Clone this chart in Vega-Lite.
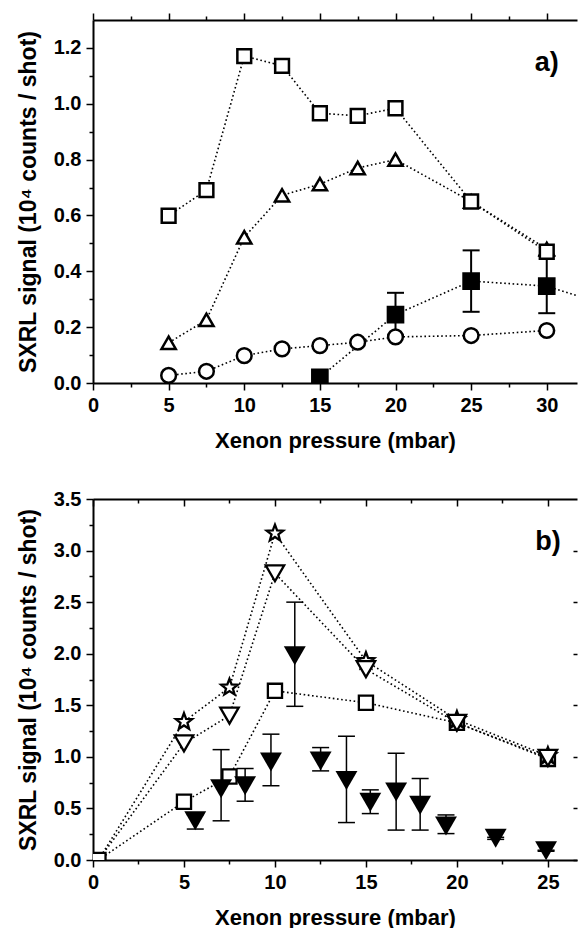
{
  "$schema": "https://vega.github.io/schema/vega-lite/v6.json",
  "background": "white",
  "padding": {"left": 17, "top": 12, "right": 0, "bottom": 0},
  "spacing": 38,
  "config": {
    "view": {"stroke": null},
    "font": "Liberation Sans",
    "axis": {
      "labelFont": "Liberation Sans", "labelFontSize": 20, "labelFontWeight": "bold", "labelColor": "black",
      "titleFont": "Liberation Sans", "titleFontSize": 22, "titleFontWeight": "bold", "titleColor": "black",
      "domainColor": "black", "domainWidth": 2, "tickColor": "black", "tickWidth": 1.5, "tickSize": 7,
      "grid": false, "labelFlush": false, "labelOverlap": false, "labelPadding": 5
    }
  },
  "datasets": {
    "a": [
      {"s": "fsq", "x": 15, "y": 0.02},
      {"s": "fsq", "x": 20, "y": 0.245, "lo": 0.17, "hi": 0.323},
      {"s": "fsq", "x": 25, "y": 0.365, "lo": 0.255, "hi": 0.475},
      {"s": "fsq", "x": 30, "y": 0.347, "lo": 0.25, "hi": 0.455},
      {"s": "fsq", "x": 35, "y": 0.262},
      {"s": "circ", "x": 5, "y": 0.027},
      {"s": "circ", "x": 7.5, "y": 0.042},
      {"s": "circ", "x": 10, "y": 0.098},
      {"s": "circ", "x": 12.5, "y": 0.122},
      {"s": "circ", "x": 15, "y": 0.134},
      {"s": "circ", "x": 17.5, "y": 0.146},
      {"s": "circ", "x": 20, "y": 0.165},
      {"s": "circ", "x": 25, "y": 0.17},
      {"s": "circ", "x": 30, "y": 0.188},
      {"s": "tri", "x": 5, "y": 0.144},
      {"s": "tri", "x": 7.5, "y": 0.226},
      {"s": "tri", "x": 10, "y": 0.522},
      {"s": "tri", "x": 12.5, "y": 0.672},
      {"s": "tri", "x": 15, "y": 0.712},
      {"s": "tri", "x": 17.5, "y": 0.77},
      {"s": "tri", "x": 20, "y": 0.8},
      {"s": "tri", "x": 25, "y": 0.65},
      {"s": "tri", "x": 30, "y": 0.48},
      {"s": "sq", "x": 5, "y": 0.599},
      {"s": "sq", "x": 7.5, "y": 0.691},
      {"s": "sq", "x": 10, "y": 1.171},
      {"s": "sq", "x": 12.5, "y": 1.136},
      {"s": "sq", "x": 15, "y": 0.966},
      {"s": "sq", "x": 17.5, "y": 0.957},
      {"s": "sq", "x": 20, "y": 0.984},
      {"s": "sq", "x": 25, "y": 0.65},
      {"s": "sq", "x": 30, "y": 0.47}
    ],
    "b": [
      {"s": "sq", "x": 0.3, "y": 0.0},
      {"s": "sq", "x": 5, "y": 0.565},
      {"s": "sq", "x": 7.5, "y": 0.81},
      {"s": "sq", "x": 10, "y": 1.64},
      {"s": "sq", "x": 15, "y": 1.525},
      {"s": "sq", "x": 20, "y": 1.33},
      {"s": "sq", "x": 25, "y": 0.98},
      {"s": "st", "x": 0.3, "y": 0.0},
      {"s": "st", "x": 5, "y": 1.34},
      {"s": "st", "x": 7.5, "y": 1.673},
      {"s": "st", "x": 10, "y": 3.167},
      {"s": "st", "x": 15, "y": 1.93},
      {"s": "st", "x": 20, "y": 1.36},
      {"s": "st", "x": 25, "y": 1.01},
      {"s": "dt", "x": 0.3, "y": 0.0},
      {"s": "dt", "x": 5, "y": 1.13},
      {"s": "dt", "x": 7.5, "y": 1.4},
      {"s": "dt", "x": 10, "y": 2.78},
      {"s": "dt", "x": 15, "y": 1.85},
      {"s": "dt", "x": 20, "y": 1.33},
      {"s": "dt", "x": 25, "y": 0.99},
      {"s": "ft", "x": 5.62, "y": 0.38, "lo": 0.3, "hi": 0.44},
      {"s": "ft", "x": 7.04, "y": 0.69, "lo": 0.38, "hi": 1.07},
      {"s": "ft", "x": 8.36, "y": 0.72, "lo": 0.57, "hi": 0.887},
      {"s": "ft", "x": 9.78, "y": 0.95, "lo": 0.72, "hi": 1.22},
      {"s": "ft", "x": 11.09, "y": 1.98, "lo": 1.49, "hi": 2.5},
      {"s": "ft", "x": 12.51, "y": 0.96, "lo": 0.864, "hi": 1.09},
      {"s": "ft", "x": 13.93, "y": 0.77, "lo": 0.363, "hi": 1.2},
      {"s": "ft", "x": 15.24, "y": 0.56, "lo": 0.45, "hi": 0.68},
      {"s": "ft", "x": 16.66, "y": 0.66, "lo": 0.29, "hi": 1.035},
      {"s": "ft", "x": 17.98, "y": 0.53, "lo": 0.29, "hi": 0.79},
      {"s": "ft", "x": 19.4, "y": 0.33, "lo": 0.256, "hi": 0.437},
      {"s": "ft", "x": 22.13, "y": 0.21, "lo": 0.2, "hi": 0.22},
      {"s": "ft", "x": 24.9, "y": 0.09, "lo": 0.085, "hi": 0.095}
    ]
  },
  "vconcat": [
    {
      "width": 484,
      "height": 363,
      "layer": [
        {
          "data": {"name": "a"},
          "mark": {"type": "line", "stroke": "black", "strokeWidth": 1.6, "strokeDash": [1.6, 2.6], "clip": true},
          "encoding": {
            "x": {"field": "x", "type": "quantitative",
              "scale": {"domain": [0, 32], "nice": false, "zero": false},
              "axis": {"orient": "bottom", "title": "Xenon pressure (mbar)",
                "values": [0, 2.5, 5, 7.5, 10, 12.5, 15, 17.5, 20, 22.5, 25, 27.5, 30],
                "labelExpr": "datum.value % 5 === 0 ? datum.label : ''",
                "tickDash": {"condition": {"test": "datum.value % 5 === 0", "value": [1, 0]}, "value": [4, 20]},
                "titlePadding": 15}},
            "y": {"field": "y", "type": "quantitative",
              "scale": {"domain": [0, 1.3], "nice": false},
              "axis": {"orient": "left", "title": "SXRL signal (10⁴ counts / shot)", "titleFontSize": 23,
                "values": [0, 0.1, 0.2, 0.3, 0.4, 0.5, 0.6, 0.7, 0.8, 0.9, 1, 1.1, 1.2],
                "format": ".1f",
                "labelExpr": "round(datum.value * 10) % 2 === 0 ? datum.label : ''",
                "tickDash": {"condition": {"test": "round(datum.value * 10) % 2 === 0", "value": [1, 0]}, "value": [4, 20]},
                "titlePadding": 13}},
            "detail": {"field": "s"}
          }
        },
        {
          "data": {"name": "a"},
          "transform": [{"filter": "isValid(datum.lo)"}],
          "mark": {"type": "rule", "stroke": "black", "strokeWidth": 2},
          "encoding": {
            "x": {"field": "x", "type": "quantitative", "axis": null},
            "y": {"field": "lo", "type": "quantitative", "axis": null},
            "y2": {"field": "hi"}
          }
        },
        {
          "data": {"name": "a"},
          "transform": [{"filter": "isValid(datum.lo)"}],
          "mark": {"type": "tick", "orient": "horizontal", "size": 17, "thickness": 2, "color": "black", "opacity": 1},
          "encoding": {
            "x": {"field": "x", "type": "quantitative", "axis": null},
            "y": {"field": "lo", "type": "quantitative", "axis": null}
          }
        },
        {
          "data": {"name": "a"},
          "transform": [{"filter": "isValid(datum.hi)"}],
          "mark": {"type": "tick", "orient": "horizontal", "size": 17, "thickness": 2, "color": "black", "opacity": 1},
          "encoding": {
            "x": {"field": "x", "type": "quantitative", "axis": null},
            "y": {"field": "hi", "type": "quantitative", "axis": null}
          }
        },
        {
          "data": {"name": "a"},
          "mark": {"type": "point", "filled": true, "stroke": "black", "strokeWidth": 2.5, "opacity": 1, "clip": true},
          "encoding": {
            "x": {"field": "x", "type": "quantitative", "axis": null},
            "y": {"field": "y", "type": "quantitative", "axis": null},
            "shape": {"field": "s", "type": "nominal", "legend": null,
              "scale": {"domain": ["fsq", "circ", "tri", "sq"], "range": ["square", "circle", "triangle-up", "square"]}},
            "fill": {"field": "s", "type": "nominal", "legend": null,
              "scale": {"domain": ["fsq", "circ", "tri", "sq"], "range": ["black", "white", "white", "white"]}},
            "size": {"field": "s", "type": "nominal", "legend": null,
              "scale": {"domain": ["fsq", "circ", "tri", "sq"], "range": [230, 190, 300, 200]}}
          }
        },
        {
          "data": {"values": [{"x": 30, "y": 1.147, "t": "a)"}]},
          "mark": {"type": "text", "fontSize": 27, "fontWeight": "bold", "font": "Liberation Sans", "color": "black", "align": "center", "baseline": "middle"},
          "encoding": {
            "x": {"field": "x", "type": "quantitative",
              "axis": {"orient": "top", "title": null, "labels": false, "domainWidth": 2,
                "values": [0, 2.5, 5, 7.5, 10, 12.5, 15, 17.5, 20, 22.5, 25, 27.5, 30],
                "tickDash": {"condition": {"test": "datum.value % 5 === 0", "value": [1, 0]}, "value": [4, 20]}}},
            "y": {"field": "y", "type": "quantitative",
              "axis": {"orient": "right", "title": null, "labels": false, "ticks": false, "domain": false}},
            "text": {"field": "t"}
          }
        }
      ]
    },
    {
      "width": 484,
      "height": 361,
      "layer": [
        {
          "data": {"name": "b"},
          "transform": [{"filter": "datum.s !== 'ft'"}],
          "mark": {"type": "line", "stroke": "black", "strokeWidth": 1.6, "strokeDash": [1.6, 2.6], "clip": true},
          "encoding": {
            "x": {"field": "x", "type": "quantitative",
              "scale": {"domain": [0, 26.6], "nice": false, "zero": false},
              "axis": {"orient": "bottom", "title": "Xenon pressure (mbar)",
                "values": [0, 2.5, 5, 7.5, 10, 12.5, 15, 17.5, 20, 22.5, 25],
                "labelExpr": "datum.value % 5 === 0 ? datum.label : ''",
                "tickDash": {"condition": {"test": "datum.value % 5 === 0", "value": [1, 0]}, "value": [4, 20]},
                "titlePadding": 15}},
            "y": {"field": "y", "type": "quantitative",
              "scale": {"domain": [0, 3.5], "nice": false},
              "axis": {"orient": "left", "title": "SXRL signal (10⁴ counts / shot)", "titleFontSize": 23,
                "values": [0, 0.25, 0.5, 0.75, 1, 1.25, 1.5, 1.75, 2, 2.25, 2.5, 2.75, 3, 3.25, 3.5],
                "format": ".1f",
                "labelExpr": "round(datum.value * 4) % 2 === 0 ? datum.label : ''",
                "tickDash": {"condition": {"test": "round(datum.value * 4) % 2 === 0", "value": [1, 0]}, "value": [4, 20]},
                "titlePadding": 13}},
            "detail": {"field": "s"}
          }
        },
        {
          "data": {"name": "b"},
          "transform": [{"filter": "datum.s === 'sq'"}],
          "mark": {"type": "point", "shape": "square", "size": 200, "filled": true, "fill": "white", "stroke": "black", "strokeWidth": 2.3, "opacity": 1, "clip": true},
          "encoding": {
            "x": {"field": "x", "type": "quantitative", "axis": null},
            "y": {"field": "y", "type": "quantitative", "axis": null}
          }
        },
        {
          "data": {"name": "b"},
          "transform": [{"filter": "datum.s === 'st' && datum.x > 1"}],
          "mark": {"type": "point", "shape": "M0,-1L0.247,-0.34L0.951,-0.309L0.399,0.13L0.588,0.809L0,0.42L-0.588,0.809L-0.399,0.13L-0.951,-0.309L-0.247,-0.34Z", "size": 300, "filled": true, "fill": "white", "stroke": "black", "strokeWidth": 2.3, "opacity": 1},
          "encoding": {
            "x": {"field": "x", "type": "quantitative", "axis": null},
            "y": {"field": "y", "type": "quantitative", "axis": null}
          }
        },
        {
          "data": {"name": "b"},
          "transform": [{"filter": "datum.s === 'dt' && datum.x > 1"}],
          "mark": {"type": "point", "shape": "triangle-down", "size": 340, "filled": true, "fill": "white", "stroke": "black", "strokeWidth": 2.3, "opacity": 1},
          "encoding": {
            "x": {"field": "x", "type": "quantitative", "axis": null},
            "y": {"field": "y", "type": "quantitative", "axis": null}
          }
        },
        {
          "data": {"name": "b"},
          "transform": [{"filter": "isValid(datum.lo)"}],
          "mark": {"type": "rule", "stroke": "black", "strokeWidth": 1.5},
          "encoding": {
            "x": {"field": "x", "type": "quantitative", "axis": null},
            "y": {"field": "lo", "type": "quantitative", "axis": null},
            "y2": {"field": "hi"}
          }
        },
        {
          "data": {"name": "b"},
          "transform": [{"filter": "isValid(datum.lo)"}],
          "mark": {"type": "tick", "orient": "horizontal", "size": 17, "thickness": 1.5, "color": "black", "opacity": 1},
          "encoding": {
            "x": {"field": "x", "type": "quantitative", "axis": null},
            "y": {"field": "lo", "type": "quantitative", "axis": null}
          }
        },
        {
          "data": {"name": "b"},
          "transform": [{"filter": "isValid(datum.hi)"}],
          "mark": {"type": "tick", "orient": "horizontal", "size": 17, "thickness": 1.5, "color": "black", "opacity": 1},
          "encoding": {
            "x": {"field": "x", "type": "quantitative", "axis": null},
            "y": {"field": "hi", "type": "quantitative", "axis": null}
          }
        },
        {
          "data": {"name": "b"},
          "transform": [{"filter": "datum.s === 'ft'"}],
          "mark": {"type": "point", "shape": "triangle-down", "filled": true, "color": "black", "size": 480, "opacity": 1},
          "encoding": {
            "x": {"field": "x", "type": "quantitative", "axis": null},
            "y": {"field": "y", "type": "quantitative", "axis": null}
          }
        },
        {
          "data": {"values": [{"x": 25, "y": 3.08, "t": "b)"}]},
          "mark": {"type": "text", "fontSize": 27, "fontWeight": "bold", "font": "Liberation Sans", "color": "black", "align": "center", "baseline": "middle"},
          "encoding": {
            "x": {"field": "x", "type": "quantitative",
              "axis": {"orient": "top", "title": null, "labels": false, "domainWidth": 2,
                "values": [0, 2.5, 5, 7.5, 10, 12.5, 15, 17.5, 20, 22.5, 25],
                "tickSize": -7,
                "tickDash": {"condition": {"test": "datum.value % 5 === 0", "value": [1, 0]}, "value": [4, 20]}}},
            "y": {"field": "y", "type": "quantitative",
              "axis": {"orient": "right", "title": null, "labels": false, "domain": false, "offset": -4,
                "values": [0, 0.5, 1, 1.5, 2, 2.5, 3],
                "tickSize": 4}},
            "text": {"field": "t"}
          }
        }
      ]
    }
  ]
}
